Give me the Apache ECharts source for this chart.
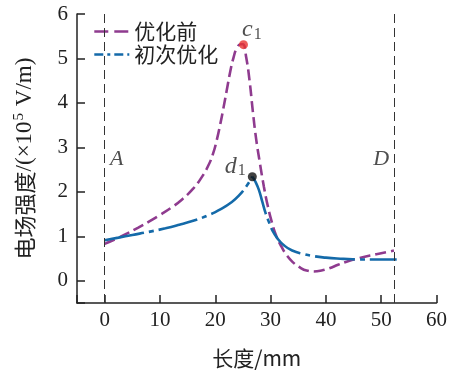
<!DOCTYPE html>
<html><head><meta charset="utf-8">
<script src="https://cdn.jsdelivr.net/npm/echarts@6/dist/echarts.min.js"></script>
<style>html,body{margin:0;padding:0;background:#fff}#c{width:450px;height:374px}</style>
</head><body><div id="c"></div>
<script>
// Data (x: length in mm, y: field strength ×10^5 V/m)
const seriesNames = ['优化前', '初次优化'];
const beforeX = [0, 2, 4, 6, 8, 10, 12, 14, 16, 17.5, 18.7, 19.6, 20.3, 20.9, 21.5, 22.1, 22.7, 23.3, 23.9, 24.6, 25.0, 25.6, 26.2, 26.8, 27.4, 28.0, 28.8, 29.5, 30.2, 31.0, 32.0, 33.0, 34.0, 35.3, 36.5, 37.8, 39.2, 40.6, 42.2, 44, 46, 48, 50, 52.3];
const beforeY = [0.83, 0.94, 1.06, 1.19, 1.33, 1.48, 1.64, 1.83, 2.07, 2.32, 2.58, 2.86, 3.18, 3.52, 3.90, 4.30, 4.70, 5.02, 5.23, 5.32, 5.32, 5.02, 4.50, 3.80, 3.18, 2.70, 2.11, 1.68, 1.33, 1.02, 0.76, 0.56, 0.42, 0.30, 0.23, 0.21, 0.23, 0.28, 0.36, 0.44, 0.51, 0.57, 0.62, 0.68];
// rising branch up to d1, then falling branch from d1
const firstRiseX = [0, 2.5, 5, 8, 11, 13.5, 16, 18.5, 21, 23, 24.3, 25.6, 26.7];
const firstRiseY = [0.91, 0.97, 1.03, 1.10, 1.18, 1.26, 1.35, 1.46, 1.61, 1.77, 1.92, 2.12, 2.34];
const firstFallX = [26.7, 27.3, 27.9, 28.5, 29.1, 29.7, 30.3, 31.2, 32.4, 33.9, 36, 38, 40, 42, 44, 46, 49, 52.8];
const firstFallY = [2.34, 2.22, 2.04, 1.78, 1.52, 1.32, 1.14, 0.96, 0.80, 0.68, 0.60, 0.55, 0.52, 0.50, 0.49, 0.48, 0.48, 0.48];
const boundaryX = [0, 52.4];
const boundaryNames = ['A', 'D'];
const boundaryLabelY = [2.74, 2.74];
const boundaryLabelX = [2.2, 50.0];
const peakNames = ['c', 'd'];
const peakX = [25.1, 26.7];
const peakY = [5.31, 2.34];
const xTicks = [0, 10, 20, 30, 40, 50, 60];
const yTicks = [0, 1, 2, 3, 4, 5, 6];

const serif = '"Liberation Serif","DejaVu Serif",serif';
const cjk = '"Noto Sans CJK SC",sans-serif';
const purple = '#8f3b8f', blue = '#146aa9';

const firstData = firstRiseX.map((x, i) => [x, firstRiseY[i]])
  .concat([[firstRiseX[firstRiseX.length - 1], '-']])
  .concat(firstFallX.map((x, i) => [x, firstFallY[i]]));

const chart = echarts.init(document.getElementById('c'));
chart.setOption({
  animation: false,
  backgroundColor: '#fff',
  grid: {left: 77, right: 12, top: 14, bottom: 71, containLabel: false},
  legend: {
    orient: 'vertical', left: 88, top: 16, itemWidth: 35, itemHeight: 14, itemGap: 2,
    itemStyle: {opacity: 0},
    data: [
      {name: seriesNames[0], itemStyle: {opacity: 0}, lineStyle: {color: purple, width: 2.6, type: [14, 6], opacity: 1}},
      {name: seriesNames[1], itemStyle: {opacity: 0}, lineStyle: {color: blue, width: 2.6, type: [9, 4, 3, 4], opacity: 1}}
    ],
    textStyle: {fontFamily: cjk, fontSize: 21, color: '#222'}
  },
  xAxis: {
    type: 'value', min: -5, max: 60, splitNumber: 6,
    name: '长度/mm', nameLocation: 'middle', nameGap: 45,
    nameTextStyle: {fontFamily: cjk, fontSize: 21, color: '#222'},
    axisLine: {onZero: false, lineStyle: {color: '#222', width: 1.5}},
    axisTick: {inside: true, length: 8, lineStyle: {color: '#222', width: 1.5}},
    axisLabel: {margin: 7, fontFamily: serif, fontSize: 21, color: '#222',
      formatter: v => xTicks.includes(v) ? String(v) : ''},
    splitLine: {show: false}
  },
  yAxis: {
    type: 'value', min: -0.5, max: 6, splitNumber: 6,
    name: '{cn|电场强度}{en|/(×10}{sup|5}{en| V/m)}', nameLocation: 'middle', nameGap: 40,
    nameTextStyle: {color: '#222', rich: {
      cn: {fontFamily: cjk, fontSize: 22, color: '#222'},
      en: {fontFamily: serif, fontSize: 23, color: '#222'},
      sup: {fontFamily: serif, fontSize: 15, color: '#222', verticalAlign: 'top', padding: [0, 1, 10, 1]}
    }},
    axisLine: {onZero: false, lineStyle: {color: '#222', width: 1.5}},
    axisTick: {inside: true, length: 8, lineStyle: {color: '#222', width: 1.5}},
    axisLabel: {margin: 9, fontFamily: serif, fontSize: 21, color: '#222',
      formatter: v => yTicks.includes(v) ? String(v) : ''},
    splitLine: {show: false}
  },
  series: [
    {
      name: seriesNames[0], type: 'line', symbol: 'none', smooth: true,
      data: beforeX.map((x, i) => [x, beforeY[i]]),
      lineStyle: {color: purple, width: 2.6, type: [11, 5]},
      itemStyle: {color: purple},
      z: 3,
      markLine: {
        silent: true, symbol: 'none', label: {show: false},
        lineStyle: {color: '#333', width: 1, type: [9, 5]},
        data: boundaryX.map(x => ({xAxis: x}))
      }
    },
    {
      name: seriesNames[1], type: 'line', symbol: 'none', smooth: true,
      connectNulls: false,
      data: firstData,
      lineStyle: {color: blue, width: 2.6, type: [40, 5, 5, 5]},
      itemStyle: {color: blue},
      z: 4
    },
    {
      name: 'peaks', type: 'scatter', symbolSize: 9, z: 6,
      data: peakX.map((x, i) => ({
        value: [x, peakY[i]], name: peakNames[i],
        itemStyle: {color: i === 0 ? '#e8332f' : '#111'},
        label: {show: true, position: i === 0 ? [3, -23] : [-23, -19],
          formatter: '{i|' + peakNames[i] + '}{s|1}',
          rich: {i: {fontFamily: serif, fontStyle: 'italic', fontSize: 24, color: '#222'},
                 s: {fontFamily: serif, fontSize: 16, color: '#222', padding: [10, 0, 0, 1]}}}
      }))
    },
    {
      name: 'bounds', type: 'scatter', symbolSize: 0, z: 6, silent: true,
      data: boundaryNames.map((n, i) => ({
        value: [boundaryLabelX[i], boundaryLabelY[i]], name: n,
        label: {show: true, position: 'inside', formatter: n,
          fontFamily: serif, fontStyle: 'italic', fontSize: 22, color: '#222'}
      }))
    }
  ]
});
</script></body></html>
